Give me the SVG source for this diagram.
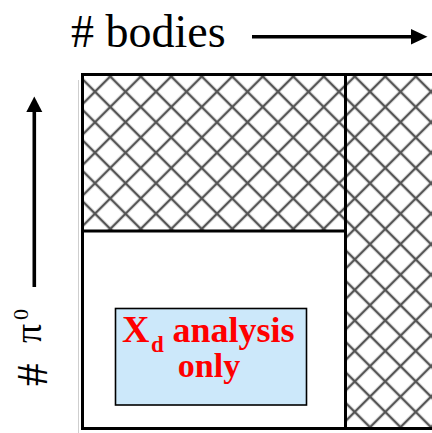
<svg xmlns="http://www.w3.org/2000/svg" width="432" height="433" viewBox="0 0 432 433">
  <style>
    .border { stroke: #000; stroke-width: 3; fill: none; }
    .axis { stroke: #000; stroke-width: 3.6; fill: none; }
    .head { fill: #000; }
    .lbl { font-family: "Liberation Serif", "Times New Roman", serif; fill: #000; }
    .red { font-family: "Liberation Serif", "Times New Roman", serif; font-weight: bold; fill: #ff0000; }
    .hl { stroke: #2b2b2b; stroke-width: 2.4; stroke-opacity: 0.8; fill: none; }
  </style>
  <defs>
    <pattern id="hatchA" width="21.567" height="21.567" patternUnits="userSpaceOnUse" patternTransform="translate(95,76.45) rotate(45)">
      <path class="hl" d="M0,10.78 H21.567 M10.78,0 V21.567"/>
    </pattern>
    <pattern id="hatchB" width="21.567" height="21.567" patternUnits="userSpaceOnUse" patternTransform="translate(370,76.45) rotate(45)">
      <path class="hl" d="M0,10.78 H21.567 M10.78,0 V21.567"/>
    </pattern>
  </defs>
  <rect x="0" y="0" width="432" height="433" fill="#fff"/>

  <g id="region-top-hatched">
    <rect x="82" y="74" width="263.5" height="157" fill="url(#hatchA)"/>
  </g>
  <g id="region-right-hatched">
    <rect x="345.5" y="74" width="90" height="354.5" fill="url(#hatchB)"/>
  </g>
  <g id="frame">
    <line x1="78.5" y1="80" x2="78.5" y2="433" stroke="#cfcfcf" stroke-width="1"/>
    <path class="border" d="M440,74.5 H82.5 V428.5 H440"/>
    <line class="border" x1="345.5" y1="74" x2="345.5" y2="428"/>
    <line class="border" x1="82" y1="231" x2="345.5" y2="231"/>
  </g>

  <g id="node-xd">
    <rect x="115.5" y="308.5" width="191" height="96.5" fill="#cce8fa" stroke="#000" stroke-width="1.6"/>
    <text class="red" y="342" font-size="38"><tspan x="122">X</tspan><tspan x="151" y="352" font-size="23">d</tspan><tspan x="172.5" y="342" font-size="36">analysis</tspan></text>
    <text class="red" x="209" y="377" font-size="34" text-anchor="middle">only</text>
  </g>

  <g id="label-bodies">
    <text class="lbl" x="71" y="46.5" font-size="46"># bodies</text>
  </g>
  <g id="label-pi0">
    <text class="lbl" font-size="45" transform="translate(47,386) rotate(-90)"><tspan x="0" y="0">#</tspan><tspan x="43" y="-6" font-size="38">π</tspan><tspan x="66" y="-19" font-size="22">0</tspan></text>
  </g>

  <g id="connectors">
    <line class="axis" x1="252" y1="36.7" x2="413" y2="36.7"/>
    <polygon class="head" points="411,29 427.5,36.7 411,44.4"/>
    <line class="axis" x1="34.3" y1="287" x2="34.3" y2="110"/>
    <polygon class="head" points="26.3,112 34.3,96.5 42.3,112"/>
  </g>
</svg>
